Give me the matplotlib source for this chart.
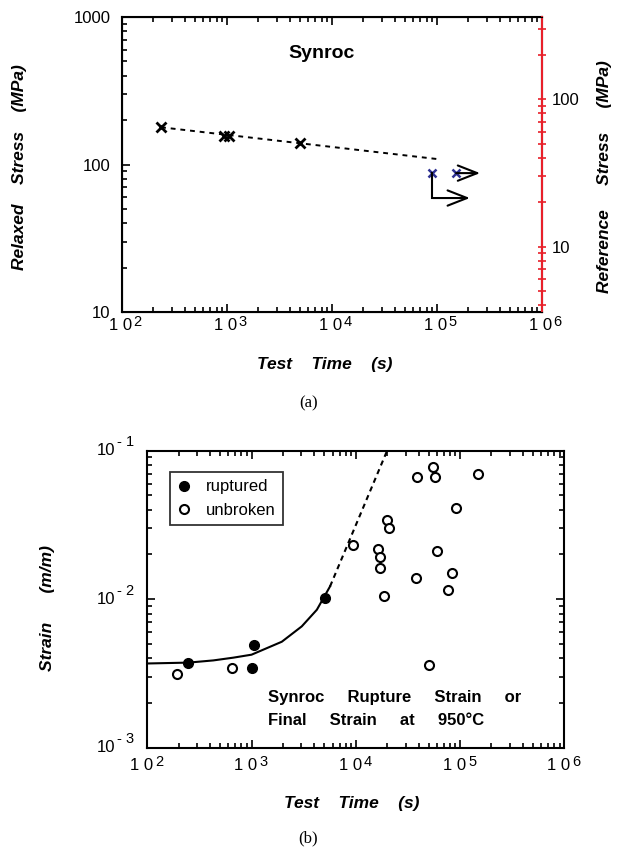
"""Synroc relaxed stress and rupture strain versus test time (two panels)."""

import matplotlib
matplotlib.use("Agg")
import matplotlib.pyplot as plt
from matplotlib.ticker import FuncFormatter, LogLocator, NullFormatter

plt.rcParams["font.family"] = ["Liberation Sans", "DejaVu Sans"]

# panel (a): relaxation tests
relax_time = [237, 950, 1050, 5000]
relax_stress = [179, 155, 155, 140]
runout_time = [91000, 153000]
runout_stress = [87.5, 87.5]
fit_time = [237, 101000]
fit_stress = [179, 109]

# panel (b): strain at rupture / end of test
rupt_time = [248, 1000, 1065, 5110]
rupt_strain = [0.00372, 0.00343, 0.00492, 0.0102]
unbr_time = [191, 655, 9500, 16500, 17100, 17100, 18700, 19800, 21000,
             39000, 37900, 54500, 56900, 60000, 50600, 90600, 84100, 77000, 148000]
unbr_strain = [0.00314, 0.00343, 0.0230, 0.0217, 0.0192, 0.0161, 0.0105, 0.0342, 0.0302,
               0.0662, 0.0138, 0.0769, 0.0662, 0.0211, 0.00363, 0.0408, 0.0151, 0.0115, 0.070]
curve_time = [100, 248, 430, 670, 1000, 1950, 3030, 4230, 5660]
curve_strain = [0.0037, 0.00375, 0.00388, 0.00405, 0.00424, 0.00518, 0.00657, 0.0085, 0.0122]
extrap_time = [5660, 20000]
extrap_strain = [0.0122, 0.1]

time_exps = [2, 3, 4, 5, 6]
strain_exps = [-3, -2, -1]

BOLD_IT = dict(fontweight="bold", fontstyle="italic", fontsize=12.5)
RED = "#e8202a"


def style_log_axes(ax):
    for side in ax.spines.values():
        side.set_linewidth(1.5)
    ax.tick_params(which="both", direction="in", top=True, labelsize=12, width=1.2)
    ax.tick_params(which="major", length=6)
    ax.tick_params(which="minor", length=3.5)


def x_pow_labels(ax, base_off, sup_off):
    """'10' plus a large raised exponent under each decade of a log x axis."""
    ax.xaxis.set_major_formatter(NullFormatter())
    for e in time_exps:
        ax.annotate("1 0", xy=(10.0 ** e, 0), xycoords=("data", "axes fraction"),
                    xytext=base_off, textcoords="offset points", ha="right", va="top",
                    fontsize=12, annotation_clip=False)
        ax.annotate(str(e), xy=(10.0 ** e, 0), xycoords=("data", "axes fraction"),
                    xytext=sup_off, textcoords="offset points", ha="left", va="top",
                    fontsize=10.5, annotation_clip=False)


fig = plt.figure(figsize=(6.25, 8.5), dpi=100)

# ---------------- panel (a)
ax1 = fig.add_axes([0.1947, 0.6329, 0.672, 0.347])
ax1.set_xscale("log")
ax1.set_yscale("log")
ax1.set_xlim(1e2, 1e6)
ax1.set_ylim(10, 1000)
ax1.plot(fit_time, fit_stress, color="black", linestyle=(0, (2.5, 2.5)), linewidth=1.4)
ax1.plot(relax_time, relax_stress, linestyle="none", marker="x", color="black",
         markersize=7, markeredgewidth=2)
ax1.plot(runout_time, runout_stress, linestyle="none", marker="x", color="#2e3192",
         markersize=6, markeredgewidth=1.8)
arrow = dict(arrowstyle="->,head_length=1.4,head_width=0.55", color="black", lw=1.5,
             shrinkA=0, shrinkB=0)
ax1.annotate("", xy=(259000, 87.5), xytext=(153000, 87.5), arrowprops=arrow)
ax1.plot([91000, 91000], [87.5, 59.5], color="black", linewidth=1.5)
ax1.annotate("", xy=(207000, 59.3), xytext=(92500, 59.3), arrowprops=arrow)
ax1.text(0.475, 0.878, "Synroc", transform=ax1.transAxes, ha="center", va="center",
         fontsize=14, fontweight="bold")
style_log_axes(ax1)
ax1.tick_params(which="both", right=False)
ax1.tick_params(axis="y", which="major", pad=8)
ax1.yaxis.set_major_formatter(FuncFormatter(lambda v, p: "%d" % round(v)))
ax1.yaxis.set_minor_formatter(NullFormatter())
ax1.xaxis.set_minor_formatter(NullFormatter())
x_pow_labels(ax1, (7.2, -4.3), (8.3, -1.8))
ax1.set_xlabel("Test    Time    (s)", **BOLD_IT)
ax1.xaxis.set_label_coords(0.484, -0.152)
ax1.set_ylabel("Relaxed    Stress    (MPa)", **BOLD_IT)
ax1.yaxis.set_label_coords(-0.225, 0.49)

ax1r = ax1.twinx()
ax1r.set_yscale("log")
ax1r.set_ylim(3.6, 360)
ax1r.spines["right"].set_color(RED)
ax1r.spines["right"].set_linewidth(1.5)
ax1r.tick_params(which="both", direction="inout", colors=RED, labelcolor="black",
                 labelsize=12, width=1.2, length=6)
ax1r.tick_params(which="major", pad=4)
ax1r.yaxis.set_minor_locator(LogLocator(subs=range(2, 10)))
ax1r.yaxis.set_minor_formatter(NullFormatter())
ax1r.yaxis.set_major_formatter(FuncFormatter(lambda v, p: "%d" % round(v)))
ax1r.set_ylabel("Reference     Stress     (MPa)", **BOLD_IT)
ax1r.yaxis.set_label_coords(1.132, 0.458)

fig.text(0.493, 0.526, "(a)", ha="center", va="center", fontsize=12, family="Liberation Serif")

# ---------------- panel (b)
ax2 = fig.add_axes([0.2357, 0.12, 0.6672, 0.35])
ax2.set_xscale("log")
ax2.set_yscale("log")
ax2.set_xlim(1e2, 1e6)
ax2.set_ylim(1e-3, 1e-1)
ax2.plot(curve_time, curve_strain, color="black", linewidth=1.5)
ax2.plot(extrap_time, extrap_strain, color="black", linestyle=(0, (2.5, 2)), linewidth=1.5)
ax2.plot(rupt_time, rupt_strain, linestyle="none", marker="o", color="black",
         markersize=7, label="ruptured")
ax2.plot(unbr_time, unbr_strain, linestyle="none", marker="o", markerfacecolor="white",
         markeredgecolor="black", markeredgewidth=1.5, markersize=6.5, label="unbroken")
style_log_axes(ax2)
ax2.tick_params(which="both", right=True)
ax2.xaxis.set_minor_formatter(NullFormatter())
ax2.yaxis.set_minor_formatter(NullFormatter())
x_pow_labels(ax2, (4.3, -7.0), (5.8, -4.8))
ax2.yaxis.set_major_formatter(NullFormatter())
for e in strain_exps:
    ax2.annotate("10", xy=(0, 10.0 ** e), xycoords=("axes fraction", "data"),
                 xytext=(-23, 0), textcoords="offset points", ha="right", va="center",
                 fontsize=12, annotation_clip=False)
    ax2.annotate("- %d" % (-e), xy=(0, 10.0 ** e), xycoords=("axes fraction", "data"),
                 xytext=(-22, 6.2), textcoords="offset points", ha="left", va="center",
                 fontsize=10.5, annotation_clip=False)
leg = ax2.legend(loc="upper left", bbox_to_anchor=(0.054, 0.928), borderaxespad=0,
                 fontsize=12, frameon=True, fancybox=False, edgecolor="black",
                 handletextpad=0.9, borderpad=0.45, handlelength=0.8, labelspacing=0.5)
leg.get_frame().set_linewidth(1.3)
ax2.text(0.29, 0.171, "Synroc     Rupture     Strain     or", transform=ax2.transAxes,
         ha="left", va="center", fontsize=12, fontweight="bold")
ax2.text(0.29, 0.094, "Final     Strain     at     950°C", transform=ax2.transAxes,
         ha="left", va="center", fontsize=12, fontweight="bold")
ax2.set_xlabel("Test    Time    (s)", **BOLD_IT)
ax2.xaxis.set_label_coords(0.49, -0.163)
ax2.set_ylabel("Strain      (m/m)", **BOLD_IT)
ax2.yaxis.set_label_coords(-0.222, 0.47)

fig.text(0.493, 0.014, "(b)", ha="center", va="center", fontsize=12,
         family="Liberation Serif")

fig.savefig("out.png", dpi=100)
